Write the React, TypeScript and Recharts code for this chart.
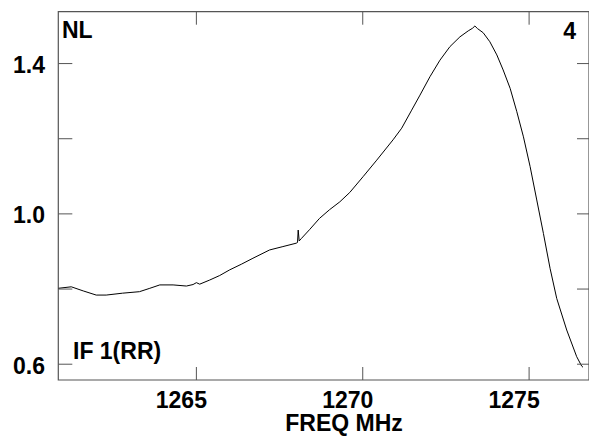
import React from 'react';
import { LineChart, Line, XAxis, YAxis, ReferenceArea } from 'recharts';

const freq = [
  1260.85, 1261.24, 1261.6, 1261.99, 1262.29, 1262.78, 1263.29, 1263.6, 1263.9, 1264.3,
  1264.7, 1264.9, 1265.0, 1265.1, 1265.4, 1265.7, 1266.0, 1266.35, 1266.7, 1267.2,
  1267.6, 1268.0, 1268.04, 1268.06, 1268.09, 1268.15, 1268.4, 1268.7, 1269.0, 1269.31,
  1269.61, 1270.01, 1270.42, 1270.91, 1271.17, 1271.47, 1271.72, 1272.02, 1272.32, 1272.62,
  1272.92, 1273.17, 1273.3, 1273.37, 1273.45, 1273.62, 1273.82, 1274.03, 1274.22, 1274.43,
  1274.63, 1274.83, 1275.03, 1275.23, 1275.43, 1275.63, 1275.83, 1276.13, 1276.43, 1276.58,
  1276.62,
];
const flux = [
  0.802, 0.806, 0.795, 0.784, 0.784, 0.789, 0.793, 0.802, 0.811, 0.811,
  0.808, 0.812, 0.817, 0.813, 0.824, 0.836, 0.851, 0.866, 0.882, 0.904,
  0.913, 0.922, 0.924, 0.957, 0.928, 0.934, 0.958, 0.988, 1.011, 1.032,
  1.057, 1.099, 1.143, 1.197, 1.228, 1.276, 1.316, 1.365, 1.409, 1.445,
  1.471, 1.487, 1.494, 1.5, 1.493, 1.482, 1.458, 1.423, 1.383, 1.334,
  1.272, 1.205, 1.126, 1.037, 0.948, 0.855, 0.775, 0.691, 0.62, 0.595,
  0.592,
];
const xTicks = [1265, 1270, 1275];
const yTicks = [0.6, 0.8, 1.0, 1.2, 1.4];
const yLabeled = ['0.6', '1.0', '1.4'];
const xDomain: [number, number] = [1260.85, 1276.8];
const yDomain: [number, number] = [0.558, 1.538];

const data = freq.map((f, i) => ({ f, v: flux[i] }));

const W = 589;
const H = 436;
const PLOT_LEFT = 58.3;
const PLOT_TOP = 11.7;
const PLOT_BOTTOM = 380;
const PLOT_RIGHT = 589;
const FONT = '"Liberation Sans", Arial, sans-serif';
const FS = 23;
const FRAME = '#555';

const YTick = (props: any) => {
  const { y, payload } = props;
  const label = Number(payload.value).toFixed(1);
  return (
    <g>
      <line x1={PLOT_LEFT} x2={PLOT_LEFT + 14} y1={y} y2={y} stroke={FRAME} strokeWidth={1} />
      <line x1={PLOT_RIGHT - 12} x2={PLOT_RIGHT} y1={y} y2={y} stroke={FRAME} strokeWidth={1} />
      {yLabeled.includes(label) && (
        <text x={45} y={y + 9.5} textAnchor="end" fontFamily={FONT} fontWeight="bold" fontSize={FS} fill="#000">
          {label}
        </text>
      )}
    </g>
  );
};

const XTick = (props: any) => {
  const { x, payload } = props;
  return (
    <g>
      <line x1={x} x2={x} y1={PLOT_BOTTOM} y2={PLOT_BOTTOM - 13} stroke={FRAME} strokeWidth={1} />
      <line x1={x} x2={x} y1={PLOT_TOP} y2={PLOT_TOP + 13} stroke={FRAME} strokeWidth={1} />
      <text x={x - 15} y={PLOT_BOTTOM + 27.5} textAnchor="middle" fontFamily={FONT} fontWeight="bold" fontSize={FS} fill="#000">
        {String(payload.value)}
      </text>
    </g>
  );
};

export default function App() {
  return (
    <div style={{ position: 'absolute', left: 0, top: 0, width: W, height: H, background: '#fff' }}>
      <LineChart
        width={W}
        height={H}
        data={data}
        margin={{ top: PLOT_TOP, right: W - PLOT_RIGHT, bottom: H - PLOT_BOTTOM - 1, left: PLOT_LEFT - 1 }}
      >
        <XAxis
          dataKey="f"
          type="number"
          domain={xDomain}
          allowDataOverflow
          ticks={xTicks}
          height={1}
          tickSize={0}
          tickMargin={0}
          tickLine={false}
          axisLine={false}
          tick={(p: any) => <XTick {...p} />}
          interval={0}
        />
        <YAxis
          type="number"
          domain={yDomain}
          allowDataOverflow
          ticks={yTicks}
          width={1}
          tickSize={0}
          tickMargin={0}
          tickLine={false}
          axisLine={false}
          tick={(p: any) => <YTick {...p} />}
          interval={0}
        />
        <ReferenceArea
          x1={xDomain[0]}
          x2={xDomain[1]}
          y1={yDomain[0]}
          y2={yDomain[1]}
          fill="none"
          fillOpacity={0}
          stroke={FRAME}
          strokeWidth={1.2}
          ifOverflow="visible"
        />
        <Line
          dataKey="v"
          type="linear"
          stroke="#000"
          strokeWidth={1}
          dot={false}
          isAnimationActive={false}
        />
      </LineChart>
      <svg
        width={W}
        height={H}
        style={{ position: 'absolute', left: 0, top: 0, pointerEvents: 'none' }}
      >
        <g fontFamily={FONT} fontWeight="bold" fontSize={FS} fill="#000">
          <text x={62} y={37.5}>NL</text>
          <text x={576} y={39} textAnchor="end">4</text>
          <text x={73} y={359}>IF 1(RR)</text>
          <text x={344} y={431} textAnchor="middle">FREQ MHz</text>
        </g>
      </svg>
    </div>
  );
}
